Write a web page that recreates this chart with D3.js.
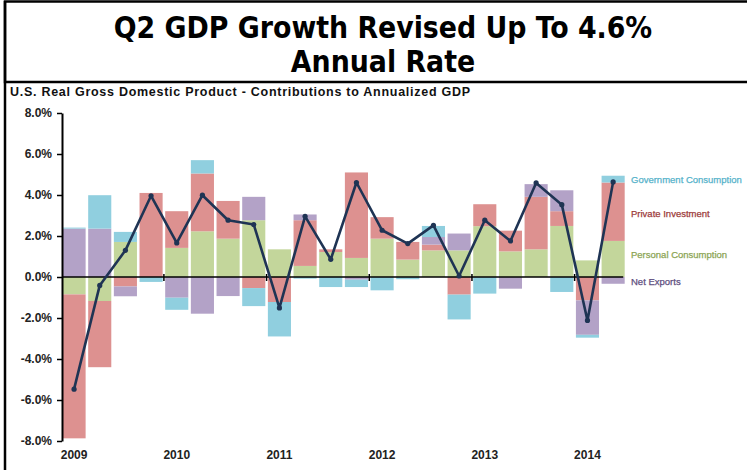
<!DOCTYPE html>
<html>
<head>
<meta charset="utf-8">
<script src="https://cdn.jsdelivr.net/npm/d3@7"></script>
<style>
body { margin: 0; background: #fff; }
svg { display: block; }
.ylab text, .yr { font-family: "Liberation Sans", Arial, sans-serif; font-weight: bold; font-size: 12px; fill: #222; }
</style>
</head>
<body>
<script>
// quarterly contributions to real GDP growth (percentage points, annualized)
var quarters = ["2009Q1","2009Q2","2009Q3","2009Q4","2010Q1","2010Q2","2010Q3","2010Q4",
	"2011Q1","2011Q2","2011Q3","2011Q4","2012Q1","2012Q2","2012Q3","2012Q4",
	"2013Q1","2013Q2","2013Q3","2013Q4","2014Q1","2014Q2"];
var personal   = [-0.85, -1.17, 1.71, 0.00, 1.42, 2.23, 1.87, 2.77, 1.35, 0.54, 1.22, 0.93, 1.87, 0.85, 1.30, 1.30, 2.48, 1.25, 1.35, 2.49, 0.81, 1.76];
var privateInv = [-7.02, -3.23, -0.46, 4.10, 1.79, 2.82, 1.84, -0.54, -1.22, 2.23, 0.13, 4.17, 1.05, 0.86, 0.28, -0.86, 1.07, 1.01, 2.56, 0.72, -1.14, 2.85];
var netExports = [2.36, 2.36, -0.48, 0.00, -1.01, -1.79, -0.93, 1.14, 0.00, 0.28, 0.00, -0.13, 0.00, 0.00, 0.37, 0.82, 0.00, -0.57, 0.62, 1.02, -1.68, -0.33];
var govt       = [0.05, 1.63, 0.49, -0.24, -0.59, 0.65, 0.00, -0.88, -1.68, -0.08, -0.49, -0.36, -0.65, -0.11, 0.54, -1.21, -0.81, 0.00, 0.00, -0.73, -0.14, 0.33];
var gdp        = [-5.47, -0.41, 1.30, 3.96, 1.66, 3.99, 2.77, 2.56, -1.51, 2.96, 0.86, 4.61, 2.28, 1.63, 2.52, 0.05, 2.77, 1.76, 4.59, 3.53, -2.12, 4.64];
var yTicks = [-8, -6, -4, -2, 0, 2, 4, 6, 8];
var years = ["2009","2010","2011","2012","2013","2014"];

var keys = ["personal", "privateInv", "netExports", "govt"];
var legendNames = ["Personal Consumption", "Private Investment", "Net Exports", "Government Consumption"];
var fills = {personal: "#c3d69b", privateInv: "#dd9190", netExports: "#b3a2c7", govt: "#90cfdf"};
var textCols = {personal: "#8ba453", privateInv: "#9c3b3b", netExports: "#5e4e7e", govt: "#55b2ca"};

var w = 747;
var h = 470;

var rows = quarters.map(function(q, i){
	return {q: q, personal: personal[i], privateInv: privateInv[i], netExports: netExports[i], govt: govt[i]};
});

var svg = d3.select("body")
			.append("svg")
			.attr("width", w)
			.attr("height", h);

// title box
svg.append("rect")
	.attr("x", 5).attr("y", 1.5)
	.attr("width", w + 10).attr("height", 80.5)
	.attr("fill", "none")
	.attr("stroke", "#000")
	.attr("stroke-width", 2.5);
svg.append("line")
	.attr("x1", 5).attr("x2", 5)
	.attr("y1", 1).attr("y2", h)
	.attr("stroke", "#000")
	.attr("stroke-width", 2.5);

svg.selectAll(".title")
	.data(["Q2 GDP Growth Revised Up To 4.6%", "Annual Rate"])
	.enter()
	.append("text")
	.attr("class", "title")
	.attr("x", 383)
	.attr("y", function(d, i){ return 38 + i * 34; })
	.attr("text-anchor", "middle")
	.style("font-family", "'DejaVu Sans Condensed', 'DejaVu Sans', sans-serif")
	.style("font-weight", "bold")
	.style("font-size", "29.8px")
	.text(function(d){ return d; });

svg.append("text")
	.attr("x", 10)
	.attr("y", 96)
	.attr("textLength", 460)
	.attr("lengthAdjust", "spacing")
	.style("font-family", "'Liberation Sans', Arial, sans-serif")
	.style("font-weight", "bold")
	.style("font-size", "12.5px")
	.style("fill", "#111")
	.text("U.S. Real Gross Domestic Product - Contributions to Annualized GDP");

var xScale = d3.scaleBand()
					.domain(quarters)
					.range([62, 62 + 22 * 25.6])
					.paddingInner(0.1)
					.paddingOuter(0.02);

var yScale = d3.scaleLinear()
					.domain([-8, 8])
					.range([441, 113]);

var stack = d3.stack()
				.keys(keys)
				.offset(d3.stackOffsetDiverging);
var series = stack(rows);

svg.selectAll("g.layer")
	.data(series)
	.enter()
	.append("g")
	.attr("class", "layer")
	.attr("fill", function(d){ return fills[d.key]; })
	.selectAll("rect")
	.data(function(d){ return d; })
	.enter()
	.append("rect")
	.attr("x", function(d){ return xScale(d.data.q); })
	.attr("width", xScale.bandwidth())
	.attr("y", function(d){ return yScale(Math.max(d[0], d[1])); })
	.attr("height", function(d){ return Math.abs(yScale(d[0]) - yScale(d[1])); });

// y axis
var yAxis = d3.axisLeft(yScale)
				.tickValues(yTicks)
				.tickSize(5)
				.tickSizeOuter(0)
				.tickFormat(function(d){ return d.toFixed(1) + "%"; });
var gy = svg.append("g")
	.attr("class", "ylab")
	.attr("transform", "translate(62,0)")
	.call(yAxis);
gy.select(".domain").attr("stroke", "#000").attr("stroke-width", 2);
gy.selectAll(".tick line").attr("stroke", "#000").attr("stroke-width", 1.5);
gy.selectAll(".tick text").attr("x", -10);
gy.attr("font-family", null).attr("font-size", null);

// zero line with year boundary ticks
var step = xScale.step();
svg.append("line")
	.attr("x1", 62).attr("x2", xScale.range()[1] - 2)
	.attr("y1", yScale(0)).attr("y2", yScale(0))
	.attr("stroke", "#000")
	.attr("stroke-width", 1.6);
svg.selectAll(".ytick")
	.data(years.slice(1))
	.enter()
	.append("line")
	.attr("class", "ytick")
	.attr("x1", function(d){ return xScale(d + "Q1") - step * 0.05; })
	.attr("x2", function(d){ return xScale(d + "Q1") - step * 0.05; })
	.attr("y1", yScale(0) - 3)
	.attr("y2", yScale(0) + 4)
	.attr("stroke", "#000")
	.attr("stroke-width", 1.5);

svg.selectAll(".yr")
	.data(years)
	.enter()
	.append("text")
	.attr("class", "yr")
	.attr("x", function(d){ return xScale(d + "Q1") + xScale.bandwidth() / 2; })
	.attr("y", 459)
	.attr("text-anchor", "middle")
	.text(function(d){ return d; });

// GDP line
var line = d3.line()
	.x(function(d, i){ return xScale(quarters[i]) + xScale.bandwidth() / 2; })
	.y(function(d){ return yScale(d); });
svg.append("path")
	.datum(gdp)
	.attr("d", line)
	.attr("fill", "none")
	.attr("stroke", "#1f3454")
	.attr("stroke-width", 2.6)
	.attr("stroke-linejoin", "round");
svg.selectAll(".pt")
	.data(gdp)
	.enter()
	.append("circle")
	.attr("class", "pt")
	.attr("cx", function(d, i){ return xScale(quarters[i]) + xScale.bandwidth() / 2; })
	.attr("cy", function(d){ return yScale(d); })
	.attr("r", 2.6)
	.attr("fill", "#1f3454");

// legend labels next to the last bar
var legendY = {govt: 183, privateInv: 217, personal: 258, netExports: 285};
svg.selectAll(".leg")
	.data(keys)
	.enter()
	.append("text")
	.attr("class", "leg")
	.attr("x", 631)
	.attr("y", function(d){ return legendY[d]; })
	.style("font-family", "'Liberation Sans', Arial, sans-serif")
	.style("font-size", "9.5px")
	.style("fill", function(d){ return textCols[d]; })
	.style("stroke", function(d){ return textCols[d]; })
	.style("stroke-width", 0.25)
	.text(function(d){ return legendNames[keys.indexOf(d)]; });
</script>
</body>
</html>
